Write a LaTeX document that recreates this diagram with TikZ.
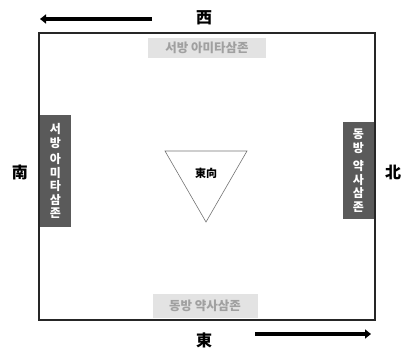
\documentclass[tikz,border=0pt]{standalone}
\usepackage{fontspec}
\setmainfont{Noto Sans CJK KR}
\usetikzlibrary{arrows.meta}
\definecolor{darkbox}{HTML}{5A5A5A}
\definecolor{lightbox}{HTML}{E3E3E3}
\definecolor{lighttext}{HTML}{A0A0A0}
\tikzset{
  dirlabel/.style={font=\fontsize{16}{16}\selectfont\bfseries, inner sep=0pt},
  hlabel/.style={fill=lightbox, text=lighttext, font=\fontsize{12.5}{12.5}\selectfont\bfseries, inner sep=0pt, minimum height=20pt},
  vlabel/.style={fill=darkbox, text=white, font=\fontsize{12}{13.5}\selectfont\bfseries, align=center, inner sep=0pt, minimum width=31pt},
  bigarrow/.style={line width=3.5pt, -{Triangle[length=6pt,width=9pt]}},
}
\begin{document}
\begin{tikzpicture}[x=1pt,y=-1pt]
\useasboundingbox (0,0) rectangle (404,354);
\draw[line width=1.3pt, draw=black!85] (39,33) rectangle (375,320);
% top
\coordinate (ta) at (152,19);
\coordinate (tb) at (40,19);
\draw[bigarrow] (ta) -- (tb);
\node[dirlabel] (west) at (204,18) {西};
\node[hlabel, minimum width=118pt] (wlabel) at (207,48) {서방 아미타삼존};
% bottom
\coordinate (ba) at (255,334);
\coordinate (bb) at (371,334);
\draw[bigarrow] (ba) -- (bb);
\node[dirlabel] (east) at (204,340) {東};
\node[hlabel, minimum width=105pt, minimum height=24pt] (elabel) at (205,306) {동방 약사삼존};
% left
\node[dirlabel] (south) at (20,172) {南};
\node[vlabel, minimum height=112pt] (slabel) at (55.5,171) {서\\방\\[3pt]아\\미\\타\\삼\\존};
% right
\node[dirlabel] (north) at (393,172) {北};
\node[vlabel, minimum height=97pt] (nlabel) at (358.5,170.5) {동\\방\\[5pt]약\\사\\삼\\존};
% triangle
\coordinate (t1) at (165,151);
\coordinate (t2) at (247,151);
\coordinate (t3) at (206,222);
\draw[draw=black!55, line width=0.6pt] (t1) -- (t2) -- (t3) -- cycle;
\node[font=\fontsize{11}{11}\selectfont\bfseries, inner sep=0pt] (dir) at (206,173) {東向};
\end{tikzpicture}
\end{document}
